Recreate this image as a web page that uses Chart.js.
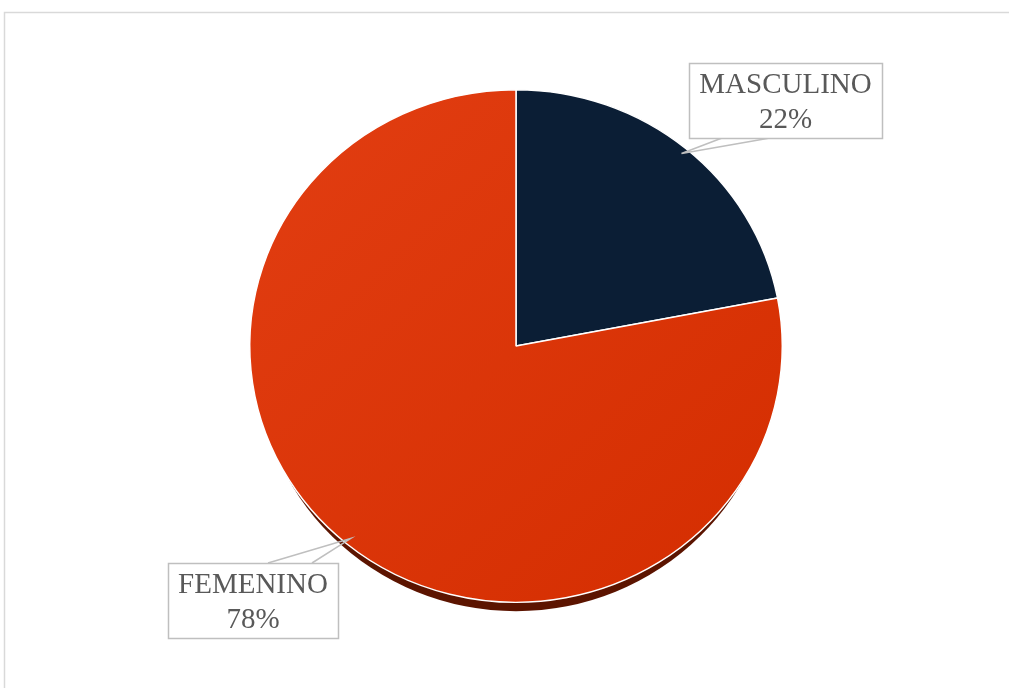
<!DOCTYPE html>
<html>
<head>
<meta charset="utf-8">
<script src="https://cdn.jsdelivr.net/npm/chart.js@4"></script>
<style>
  html, body { margin: 0; padding: 0; background: #fff; }
  #wrap { width: 1009px; height: 688px; position: relative; }
</style>
</head>
<body>
<div id="wrap"><canvas id="chartGenero" width="1009" height="688"></canvas></div>
<script>
const categorias = ['MASCULINO', 'FEMENINO'];
const porcentajes = [22, 78];
const colores = ['#0b1e35', 'rojo'];

// callout boxes: [x, y, w, h] and the two points where the leader meets the box
const cajas = [
    { box: [689, 63, 193, 75], pie: [[722, 138], [770, 138]] },
    { box: [168, 563, 170, 75], pie: [[268, 563], [312, 563]] }
];

const escalaY = 257 / 267;

const elipse = {
    id: 'elipse',
    beforeDatasetsDraw(chart) {
        const arc = chart.getDatasetMeta(0).data[0];
        const { x, y, outerRadius } = arc.getProps(['x', 'y', 'outerRadius'], true);
        const ctx = chart.ctx;
        ctx.save();
        // frame around the chart
        ctx.strokeStyle = '#d9d9d9';
        ctx.lineWidth = 1.5;
        ctx.strokeRect(4.5, 12.5, 1100, 1000);
        // dark rim under the pie
        ctx.fillStyle = '#5c1400';
        ctx.beginPath();
        ctx.ellipse(x, y + 9, outerRadius - 6, outerRadius * escalaY, 0, 0, Math.PI * 2);
        ctx.fill();
        ctx.translate(0, y);
        ctx.scale(1, escalaY);
        ctx.translate(0, -y);
    },
    afterDatasetsDraw(chart) {
        chart.ctx.restore();
    },
    afterDraw(chart) {
        const ctx = chart.ctx;
        const meta = chart.getDatasetMeta(0);
        ctx.save();
        meta.data.forEach((arc, i) => {
            const p = arc.getProps(['x', 'y', 'startAngle', 'endAngle', 'outerRadius'], true);
            const mid = (p.startAngle + p.endAngle) / 2;
            const ax = p.x + Math.cos(mid) * p.outerRadius * 0.975;
            const ay = p.y + Math.sin(mid) * p.outerRadius * 0.975 * escalaY;
            const c = cajas[i];
            ctx.strokeStyle = '#bfbfbf';
            ctx.lineWidth = 1.5;
            ctx.beginPath();
            ctx.moveTo(c.pie[0][0], c.pie[0][1]);
            ctx.lineTo(ax, ay);
            ctx.lineTo(c.pie[1][0], c.pie[1][1]);
            ctx.stroke();
            ctx.fillStyle = '#fff';
            ctx.fillRect(c.box[0], c.box[1], c.box[2], c.box[3]);
            ctx.strokeRect(c.box[0] + 0.5, c.box[1] + 0.5, c.box[2], c.box[3]);
            ctx.fillStyle = '#595959';
            ctx.font = '29px "Liberation Serif", "Times New Roman", serif';
            ctx.textAlign = 'center';
            ctx.textBaseline = 'middle';
            const cx = c.box[0] + c.box[2] / 2;
            ctx.fillText(categorias[i], cx, c.box[1] + 22);
            ctx.fillText(porcentajes[i] + '%', cx, c.box[1] + 57);
        });
        ctx.restore();
    }
};

new Chart(document.getElementById('chartGenero').getContext('2d'), {
    type: 'pie',
    data: {
        labels: categorias,
        datasets: [{
            data: porcentajes,
            backgroundColor: (c) => {
                if (colores[c.dataIndex] !== 'rojo') return colores[c.dataIndex];
                const area = c.chart.chartArea;
                if (!area) return '#d93208';
                const g = c.chart.ctx.createLinearGradient(area.left + 230, area.top, area.right - 230, area.bottom);
                g.addColorStop(0, '#e23e12');
                g.addColorStop(1, '#d42d00');
                return g;
            },
            borderColor: '#ffffff',
            borderWidth: 1.5
        }]
    },
    options: {
        responsive: false,
        animation: false,
        layout: { padding: { left: 23, right: 0, top: 79, bottom: 75 } },
        plugins: { legend: { display: false }, tooltip: { enabled: false } }
    },
    plugins: [elipse]
});
</script>
</body>
</html>
